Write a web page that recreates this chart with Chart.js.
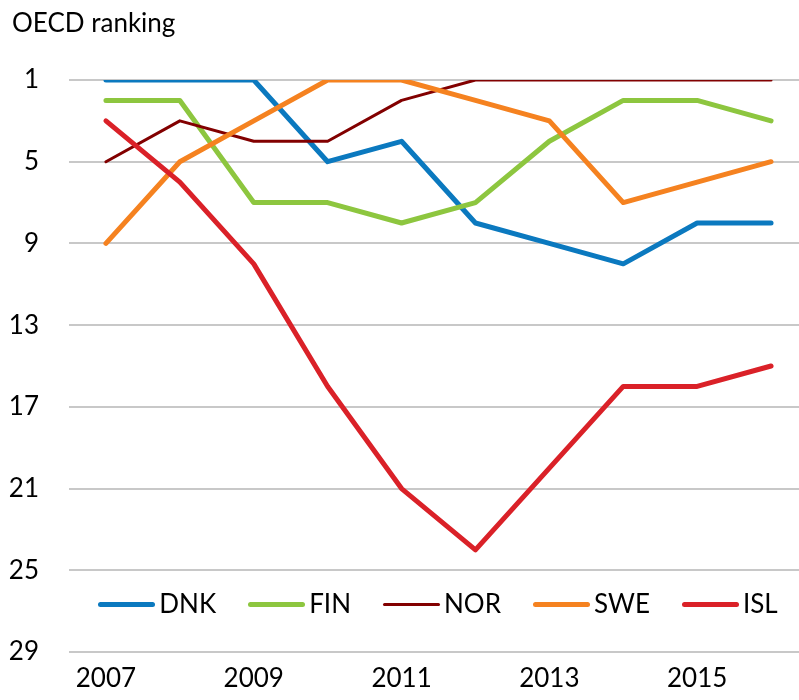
<!DOCTYPE html>
<html>
<head>
<meta charset="utf-8">
<script src="https://cdn.jsdelivr.net/npm/chart.js@4.4.1/dist/chart.umd.min.js"></script>
<style>
  html, body { margin: 0; padding: 0; background: #fff; overflow: hidden; width: 799px; height: 700px; }
  #wrap { position: relative; width: 799px; height: 700px; overflow: hidden; }
  canvas { position: absolute; left: 0; top: 0; }
  #title { position: absolute; left: 12px; top: 9px; font-family: Lato, sans-serif; font-size: 26px; line-height: 26px; color: #000; white-space: nowrap; }
  #legend { position: absolute; left: 69px; width: 738px; top: 590px; height: 26px; display: flex; justify-content: center; gap: 32px; font-family: Lato, sans-serif; font-size: 26px; line-height: 26px; color: #000; }
  .item { display: flex; align-items: center; white-space: nowrap; }
  .swatch { display: inline-block; width: 57px; margin-right: 4px; margin-top: 3px; border-radius: 3px; }
</style>
</head>
<body>
<div id="wrap">
  <canvas id="c" width="808" height="700" style="width:808px;height:700px"></canvas>
  <div id="title">OECD ranking</div>
  <div id="legend"></div>
</div>
<script>
const years = ['2007','2008','2009','2010','2011','2012','2013','2014','2015','2016'];
const seriesNames = ['DNK','FIN','NOR','SWE','ISL'];
const DNK = [1, 1, 1, 5, 4, 8, 9, 10, 8, 8];
const FIN = [2, 2, 7, 7, 8, 7, 4, 2, 2, 3];
const NOR = [5, 3, 4, 4, 2, 1, 1, 1, 1, 1];
const SWE = [9, 5, 3, 1, 1, 2, 3, 7, 6, 5];
const ISL = [3, 6, 10, 16, 21, 24, 20, 16, 16, 15];
const yTicks = [1, 5, 9, 13, 17, 21, 25, 29];
const colors = ['#0B79BF', '#8DC63F', '#820000', '#F58220', '#DA2128'];
const widths = [5, 5, 3, 5, 5];
const values = [DNK, FIN, NOR, SWE, ISL];

const FONT = 'Lato, sans-serif';

const datasets = seriesNames.map((name, i) => ({
  label: name,
  data: values[i],
  borderColor: colors[i],
  backgroundColor: colors[i],
  borderWidth: widths[i],
  borderCapStyle: 'round',
  borderJoinStyle: 'round',
  pointRadius: 0,
  pointHoverRadius: 0,
  tension: 0,
  fill: false,
  order: seriesNames.length - i
}));

new Chart(document.getElementById('c'), {
  type: 'line',
  data: { labels: years, datasets: datasets },
  options: {
    responsive: false,
    animation: false,
    devicePixelRatio: 1,
    layout: { padding: { top: 80, left: 0, right: 0, bottom: 0 } },
    plugins: {
      legend: { display: false },
      title: { display: false },
      tooltip: { enabled: false }
    },
    scales: {
      x: {
        type: 'category',
        offset: true,
        grid: { display: false, drawTicks: false, tickLength: 0 },
        border: { display: false },
        ticks: {
          autoSkip: false,
          maxRotation: 0,
          padding: 11,
          color: '#000',
          font: { family: FONT, size: 26 },
          callback: function (val, idx) { return idx % 2 === 0 ? years[idx] : ''; }
        },
        afterFit: function (scale) { scale.height = 48; }
      },
      y: {
        type: 'linear',
        reverse: true,
        min: yTicks[0],
        max: yTicks[yTicks.length - 1],
        afterBuildTicks: function (scale) { scale.ticks = yTicks.map(v => ({ value: v })); },
        grid: { color: '#C8C8C8', lineWidth: 2, drawTicks: false, tickLength: 0 },
        border: { display: false },
        ticks: {
          padding: 30,
          color: '#000',
          font: { family: FONT, size: 26 }
        },
        afterFit: function (scale) { scale.width = 69; }
      }
    }
  }
});

const legend = document.getElementById('legend');
seriesNames.forEach((name, i) => {
  const item = document.createElement('div');
  item.className = 'item';
  const sw = document.createElement('span');
  sw.className = 'swatch';
  sw.style.height = widths[i] + 'px';
  sw.style.background = colors[i];
  const tx = document.createElement('span');
  tx.textContent = name;
  item.appendChild(sw);
  item.appendChild(tx);
  legend.appendChild(item);
});
</script>
</body>
</html>
